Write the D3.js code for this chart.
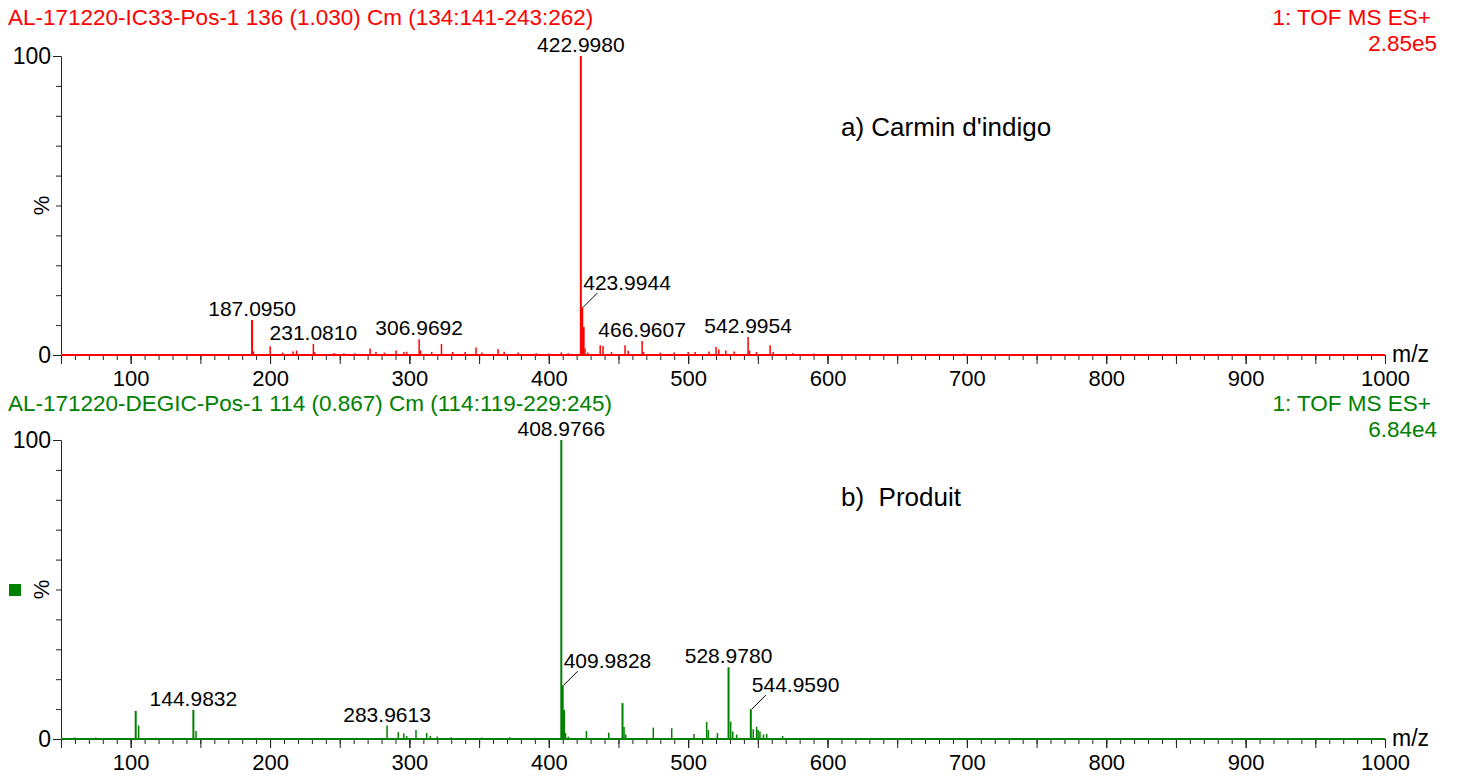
<!DOCTYPE html>
<html>
<head>
<meta charset="utf-8">
<script src="https://cdn.jsdelivr.net/npm/d3@7"></script>
<style>
	body {margin: 0; background: #fff;}
	text {font-family: 'Liberation Sans', Arial, sans-serif;}
</style>
</head>
<body>
<div id="plànol"></div>
<script>
// ---- dades llegides de l'espectre ----
var capçaleraA = 'AL-171220-IC33-Pos-1 136 (1.030) Cm (134:141-243:262)';
var capçaleraB = 'AL-171220-DEGIC-Pos-1 114 (0.867) Cm (114:119-229:245)';
var funció = '1: TOF MS ES+';
var intensitatA = '2.85e5';
var intensitatB = '6.84e4';
var títolA = "a) Carmin d'indigo";
var títolB = 'b)\u00a0 Produit';
var eixX = 'm/z';
var eixY = '%';

var mzMarcs = [100, 200, 300, 400, 500, 600, 700, 800, 900, 1000];

// [m/z, %]
var picsA = [
	[58, 0.4], [72, 0.3], [95, 0.3], [118, 0.4], [136, 0.3], [152, 0.4], [171, 0.3],
	[187.0950, 11.7], [188.1, 1.2], [200.1, 2.9], [209, 0.8], [216.5, 1.2], [219, 1.5],
	[231.0810, 3.7], [232.1, 0.9], [246, 0.7], [253, 0.6], [261, 0.6], [271.8, 2.2], [276, 1.0],
	[282, 0.8], [290.4, 1.5], [296, 1.0], [298, 1.1], [306.9692, 5.3], [308, 1.5], [316, 1.0],
	[323, 3.7], [331, 1.0], [340, 1.0], [347.8, 2.5], [352, 0.8], [363.6, 2.0], [368, 1.1],
	[378, 0.8], [391, 0.6], [400, 0.5], [409, 0.9], [414, 0.6],
	[422.9980, 100], [423.9944, 16], [424.99, 9.4], [426, 2.2], [428, 0.8],
	[436.9, 3.3], [438.9, 3.0], [445, 1.0], [454.7, 3.3], [457, 1.4], [466.9607, 4.7], [468, 1.0],
	[480, 0.8], [490, 0.8], [500, 1.0], [505, 1.0], [515, 1.2], [520, 2.7], [522, 1.8],
	[527, 1.5], [533, 1.2], [542.9954, 6.0], [544, 1.5], [549, 1.0], [558.8, 3.3], [561, 1.0],
	[575, 0.6], [590, 0.5], [610, 0.4], [636, 0.3], [680, 0.4], [698, 0.5], [720, 0.3],
	[738, 0.3], [775, 0.3], [795, 0.4], [840, 0.3], [880, 0.4], [925, 0.4], [945, 0.3], [975, 0.3]
];
var etiquetesA = ['422.9980', '187.0950', '231.0810', '306.9692', '423.9944', '466.9607', '542.9954'];
var fletxesA = ['423.9944'];

var picsB = [
	[60, 0.5], [75, 0.5], [88, 0.3],
	[103.6, 9.4], [105.7, 4.5], [118, 0.4], [131, 0.3],
	[144.9832, 9.7], [146.9, 2.7], [170, 0.3], [190, 0.4], [215, 0.3], [240, 0.3], [262, 0.4],
	[283.9613, 4.5], [292, 2.3], [296, 1.8], [298, 1.0], [304.7, 3.0], [312.4, 2.0], [315, 1.0],
	[320, 0.8], [330, 0.6], [352, 0.5], [372, 0.6], [390, 0.4],
	[408.9766, 100], [409.9828, 18], [410.98, 9.7], [412, 2.0], [414, 0.8],
	[427, 2.7], [443, 2.1], [452.9, 12], [454, 4.0], [455.2, 1.5], [475, 3.8], [488.2, 3.6],
	[504.2, 1.7], [513.3, 5.7], [514.5, 3.0], [521, 2.0],
	[528.9780, 24], [530.5, 5.8], [532, 2.5], [534.8, 1.5],
	[544.9590, 10], [546.7, 3.3], [549.1, 4.1], [550.2, 3.0], [551.5, 2.5], [554, 1.5],
	[556.3, 1.7], [567.8, 1.0], [590, 0.4], [615, 0.3], [640, 0.3], [680, 0.3], [725, 0.3],
	[800, 0.3], [850, 0.2], [905, 0.3], [960, 0.2]
];
var etiquetesB = ['408.9766', '144.9832', '283.9613', '409.9828', '528.9780', '544.9590'];
var fletxesB = ['409.9828', '544.9590'];

// ---- disposició ----
var Amplada = 1457;
var Alçada = 776;
var vermell = '#ff0000';
var verd = '#008000';
var lletra = "'Liberation Sans', Arial, sans-serif";

var plànol = d3.select('#plànol')
	.append('svg')
		.attr('width', Amplada)
		.attr('height', Alçada);

var x = d3.scaleLinear()
	.domain([50, 1000])
	.range([61, 1385]);

function pinta(a, mida) {
	a.selectAll('line').attr('stroke', '#222');
	a.select('.domain').attr('stroke', '#222');
	a.selectAll('text')
		.attr('fill', '#000')
		.style('font-size', mida)
		.style('font-family', lletra);
}

function panell(cfg) {
	var y = d3.scaleLinear()
		.domain([0, 100])
		.range([cfg.y0, cfg.y100]);
	var g = plànol.append('g');

	// capçaleres
	g.append('text')
		.attr('x', 8).attr('y', cfg.cap)
		.attr('fill', cfg.color)
		.style('font-size', '22.5px')
		.text(cfg.capçalera);
	g.append('text')
		.attr('x', 1431).attr('y', cfg.cap)
		.attr('text-anchor', 'end')
		.attr('fill', cfg.color)
		.style('font-size', '22.5px')
		.text(funció);
	g.append('text')
		.attr('x', 1437).attr('y', cfg.cap + 26)
		.attr('text-anchor', 'end')
		.attr('fill', cfg.color)
		.style('font-size', '22.5px')
		.text(cfg.intensitat);

	// eix x: menors, mitjans, majors
	var eixMenor = d3.axisBottom(x)
		.tickValues(d3.range(50, 1001, 10))
		.tickSize(5).tickSizeOuter(0)
		.tickFormat('');
	var eixMitjà = d3.axisBottom(x)
		.tickValues(d3.range(50, 1001, 50))
		.tickSize(9).tickSizeOuter(0)
		.tickFormat('');
	var eixMajor = d3.axisBottom(x)
		.tickValues(mzMarcs)
		.tickSize(9).tickSizeOuter(0)
		.tickPadding(6)
		.tickFormat(d3.format('d'));
	[eixMenor, eixMitjà, eixMajor].forEach(function(e) {
		var a = g.append('g')
			.attr('transform', `translate(0,${cfg.y0})`)
			.call(e);
		pinta(a, '22px');
	});

	// eix y
	var eixYmenor = d3.axisLeft(y)
		.tickValues(d3.range(0, 101, 10))
		.tickSize(5).tickSizeOuter(0)
		.tickFormat('');
	var eixYmajor = d3.axisLeft(y)
		.tickValues([0, 100])
		.tickSize(8).tickSizeOuter(0)
		.tickPadding(2)
		.tickFormat(d3.format('d'));
	[eixYmenor, eixYmajor].forEach(function(e) {
		var a = g.append('g')
			.attr('transform', `translate(${x(50)},0)`)
			.call(e);
		pinta(a, '23px');
	});

	g.append('text')
		.attr('transform', `translate(49,${y(50)}) rotate(-90)`)
		.attr('text-anchor', 'middle')
		.style('font-size', '22px')
		.text(eixY);
	g.append('text')
		.attr('x', 1392).attr('y', cfg.y0 + 7)
		.style('font-size', '23px')
		.text(eixX);

	// espectre
	g.append('line')
		.attr('x1', x(50)).attr('x2', x(1000))
		.attr('y1', y(0)).attr('y2', y(0))
		.attr('stroke', cfg.color)
		.attr('stroke-width', 2);
	g.append('g')
		.selectAll('line')
		.data(cfg.pics)
		.enter()
		.append('line')
			.attr('x1', d => x(d[0])).attr('x2', d => x(d[0]))
			.attr('y1', y(0)).attr('y2', d => y(d[1]))
			.attr('stroke', cfg.color)
			.attr('stroke-width', d => d[1] > 8 ? 2 : 1.5);

	// etiquetes de pics
	var etiq = cfg.etiquetes.map(function(t) {
		var mz = +t;
		var pic = cfg.pics.reduce((a, b) => Math.abs(b[0] - mz) < Math.abs(a[0] - mz) ? b : a);
		return {text: t, px: x(pic[0]), py: y(pic[1]), fletxa: cfg.fletxes.includes(t)};
	});
	g.append('g')
		.selectAll('line')
		.data(etiq.filter(d => d.fletxa))
		.enter()
		.append('line')
			.attr('x1', d => d.px + 1).attr('y1', d => d.py)
			.attr('x2', d => d.px + 15).attr('y2', d => d.py - 14)
			.attr('stroke', '#000')
			.attr('stroke-width', 1);
	g.append('g')
		.selectAll('text')
		.data(etiq)
		.enter()
		.append('text')
			.attr('x', d => d.fletxa ? d.px + 1 : d.px)
			.attr('y', d => d.fletxa ? d.py - 17 : d.py - 4)
			.attr('text-anchor', d => d.fletxa ? 'start' : 'middle')
			.style('font-size', '21px')
			.text(d => d.text);

	g.append('text')
		.attr('x', 841).attr('y', cfg.títolY)
		.style('font-size', '26px')
		.text(cfg.títol);
}

panell({capçalera: capçaleraA, intensitat: intensitatA, color: vermell, cap: 25,
	y0: 355, y100: 56, pics: picsA, etiquetes: etiquetesA, fletxes: fletxesA,
	títol: títolA, títolY: 136});
panell({capçalera: capçaleraB, intensitat: intensitatB, color: verd, cap: 411,
	y0: 739, y100: 440, pics: picsB, etiquetes: etiquetesB, fletxes: fletxesB,
	títol: títolB, títolY: 506});

// marca del segon espectre
plànol.append('rect')
	.attr('x', 9).attr('y', 584)
	.attr('width', 12).attr('height', 12)
	.attr('fill', verd);
</script>
</body>
</html>
